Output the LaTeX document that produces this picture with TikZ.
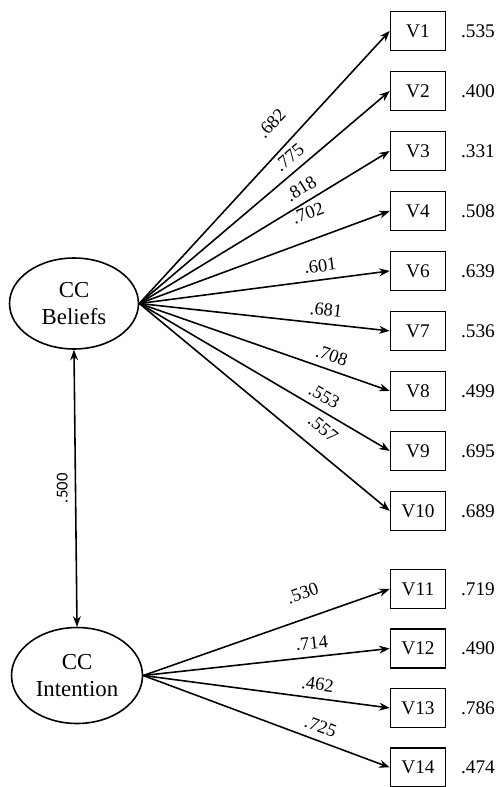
\documentclass[tikz,border=0pt]{standalone}
\usepackage{fontspec}
\setmainfont{Liberation Serif}
\newfontfamily\corrfont{Carlito}
\usetikzlibrary{shapes.geometric,arrows.meta}

\begin{document}
\begin{tikzpicture}[x=0.02cm,y=-0.02cm,node distance=1.2cm,>={Stealth[length=6pt,width=4.5pt]},
  factor/.style={draw,ellipse,line width=0.9pt,align=center,inner sep=0pt,font=\fontsize{13}{15}\selectfont},
  item/.style={draw,line width=0.9pt,minimum width=1.1cm,minimum height=0.78cm,font=\fontsize{11}{13}\selectfont},
  resid/.style={font=\fontsize{11}{13}\selectfont},
  load/.style={->,line width=0.9pt},
  lbl/.style={sloped,above=3pt,inner sep=1pt,font=\fontsize{10.5}{12}\selectfont}]
\useasboundingbox (0,0) rectangle (500,787);

% latent factors
\node[factor,minimum width=2.58cm,minimum height=1.82cm](CB) at (74,303.5){CC\\Beliefs};
\node[factor,minimum width=2.62cm,minimum height=1.92cm](CI) at (77,675.5){CC\\Intention};
\draw[<->,line width=0.9pt](CB.south) -- node[rotate=90,anchor=south,yshift=3pt,inner sep=1pt,font=\corrfont\fontsize{9.5}{11}\selectfont]{.500} (CI.north);

% indicators of CC Beliefs
\node[item](V1) at (418,31){V1};
\node[item,below of=V1](V2){V2};
\node[item,below of=V2](V3){V3};
\node[item,below of=V3](V4){V4};
\node[item,below of=V4](V6){V6};
\node[item,below of=V6](V7){V7};
\node[item,below of=V7](V8){V8};
\node[item,below of=V8](V9){V9};
\node[item,below of=V9](V10){V10};

% indicators of CC Intention
\node[item,node distance=1.19cm](V11) at (418,589){V11};
\node[item,node distance=1.19cm,below of=V11](V12){V12};
\node[item,node distance=1.19cm,below of=V12](V13){V13};
\node[item,node distance=1.19cm,below of=V13](V14){V14};

% error variances
\node[resid,right of=V1](E1){.535};
\node[resid,right of=V2](E2){.400};
\node[resid,right of=V3](E3){.331};
\node[resid,right of=V4](E4){.508};
\node[resid,right of=V6](E6){.639};
\node[resid,right of=V7](E7){.536};
\node[resid,right of=V8](E8){.499};
\node[resid,right of=V9](E9){.695};
\node[resid,right of=V10](E10){.689};
\node[resid,right of=V11](E11){.719};
\node[resid,right of=V12](E12){.490};
\node[resid,right of=V13](E13){.786};
\node[resid,right of=V14](E14){.474};

% loadings
\draw[load](CB.east) -- node[lbl,pos=.60,above=6pt]{.682} (V1.west);
\draw[load](CB.east) -- node[lbl,pos=.635]{.775} (V2.west);
\draw[load](CB.east) -- node[lbl,pos=.675]{.818} (V3.west);
\draw[load](CB.east) -- node[lbl,pos=.71,above=7pt]{.702} (V4.west);
\draw[load](CB.east) -- node[lbl,pos=.73]{.601} (V6.west);
\draw[load](CB.east) -- node[lbl,pos=.74]{.681} (V7.west);
\draw[load](CB.east) -- node[lbl,pos=.75]{.708} (V8.west);
\draw[load](CB.east) -- node[lbl,pos=.71]{.553} (V9.west);
\draw[load](CB.east) -- node[lbl,pos=.68,above=4pt]{.557} (V10.west);
\draw[load](CI.east) -- node[lbl,pos=.68,above=6pt]{.530} (V11.west);
\draw[load](CI.east) -- node[lbl,pos=.69]{.714} (V12.west);
\draw[load](CI.east) -- node[lbl,pos=.70]{.462} (V13.west);
\draw[load](CI.east) -- node[lbl,pos=.70]{.725} (V14.west);
\end{tikzpicture}
\end{document}
